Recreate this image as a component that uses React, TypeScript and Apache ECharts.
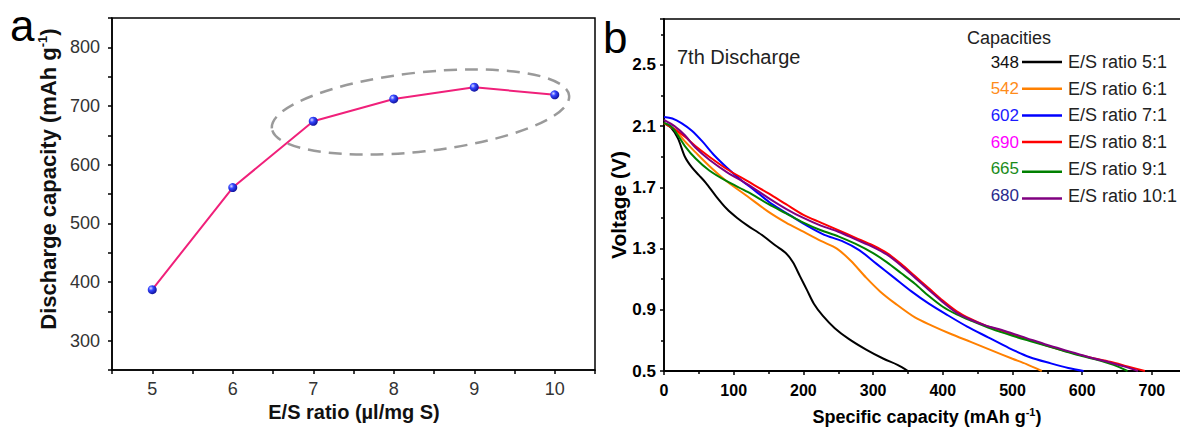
import React, { useEffect, useRef } from 'react';
import * as echarts from 'echarts';

// ---------- Panel a data ----------
const esRatio = [5, 6, 7, 8, 9, 10];
const dischargeCapacity = [387, 561, 674, 712, 732, 719];

// ---------- Panel b data: [specific capacity (mAh/g), voltage (V)] ----------
const curveRatio5 = [[0, 2.12], [10, 2.09], [20, 2.02], [30, 1.9], [40, 1.83], [50, 1.78], [60, 1.73], [75, 1.64], [90, 1.56], [105, 1.5], [120, 1.45], [140, 1.39], [160, 1.32], [175, 1.27], [185, 1.21], [195, 1.12], [205, 1.03], [215, 0.94], [228, 0.86], [245, 0.78], [265, 0.71], [290, 0.64], [315, 0.58], [335, 0.54], [350, 0.5]];
const curveRatio6 = [[0, 2.12], [15, 2.08], [30, 2.0], [45, 1.93], [65, 1.84], [90, 1.74], [120, 1.64], [150, 1.54], [175, 1.47], [200, 1.41], [225, 1.35], [248, 1.3], [268, 1.22], [290, 1.11], [310, 1.02], [332, 0.94], [360, 0.85], [385, 0.795], [410, 0.745], [440, 0.69], [470, 0.635], [500, 0.58], [520, 0.545], [542, 0.5]];
const curveRatio7 = [[0, 2.16], [12, 2.15], [25, 2.12], [40, 2.07], [55, 2.0], [72, 1.91], [90, 1.83], [110, 1.75], [130, 1.68], [155, 1.59], [180, 1.52], [205, 1.45], [230, 1.39], [255, 1.35], [280, 1.29], [305, 1.2], [330, 1.11], [355, 1.02], [380, 0.94], [405, 0.87], [435, 0.79], [465, 0.72], [495, 0.65], [525, 0.59], [555, 0.55], [580, 0.52], [602, 0.5]];
const curveRatio8 = [[0, 2.12], [15, 2.08], [30, 2.03], [45, 1.97], [65, 1.9], [90, 1.82], [120, 1.74], [150, 1.66], [175, 1.59], [200, 1.52], [225, 1.47], [250, 1.42], [275, 1.37], [300, 1.32], [320, 1.27], [340, 1.2], [360, 1.12], [380, 1.04], [400, 0.96], [420, 0.89], [440, 0.84], [460, 0.8], [490, 0.755], [520, 0.71], [550, 0.665], [580, 0.625], [610, 0.59], [640, 0.56], [665, 0.53], [690, 0.5]];
const curveRatio9 = [[0, 2.12], [10, 2.1], [20, 2.04], [30, 1.97], [45, 1.89], [65, 1.81], [90, 1.74], [120, 1.67], [150, 1.59], [175, 1.53], [200, 1.47], [225, 1.42], [250, 1.38], [275, 1.33], [300, 1.27], [320, 1.21], [340, 1.14], [360, 1.07], [380, 0.99], [400, 0.92], [420, 0.87], [440, 0.83], [470, 0.775], [500, 0.73], [530, 0.69], [560, 0.65], [590, 0.61], [620, 0.575], [645, 0.54], [665, 0.5]];
const curveRatio10 = [[0, 2.14], [15, 2.1], [30, 2.04], [45, 1.96], [65, 1.88], [90, 1.8], [120, 1.72], [150, 1.63], [175, 1.56], [200, 1.5], [225, 1.45], [250, 1.41], [275, 1.36], [300, 1.31], [320, 1.26], [340, 1.19], [360, 1.11], [380, 1.03], [400, 0.95], [420, 0.88], [440, 0.835], [460, 0.8], [490, 0.76], [520, 0.715], [550, 0.67], [580, 0.63], [610, 0.59], [640, 0.555], [660, 0.53], [680, 0.5]];

const curves = [curveRatio5, curveRatio6, curveRatio7, curveRatio8, curveRatio9, curveRatio10];
const curveNames = ['E/S ratio 5:1', 'E/S ratio 6:1', 'E/S ratio 7:1', 'E/S ratio 8:1', 'E/S ratio 9:1', 'E/S ratio 10:1'];
const curveCapacities = ['348', '542', '602', '690', '665', '680'];
const lineColors = ['#000000', '#ff8000', '#0000ff', '#ff0000', '#008000', '#800080'];
const numberColors = ['#111111', '#ff8c1a', '#1a1aff', '#ff00ff', '#1a8c1a', '#2a2a8c'];

const FONT = "'Liberation Sans', Arial, sans-serif";

export default function App() {
  const ref = useRef<HTMLDivElement>(null);

  useEffect(() => {
    if (!ref.current) return;
    const chart = echarts.init(ref.current, undefined, { renderer: 'svg' });

    const legendGraphics: any[] = [];
    const rowY0 = 62;
    const rowStep = 26.7;
    curveNames.forEach((name, i) => {
      const y = rowY0 + i * rowStep;
      legendGraphics.push({
        type: 'text', x: 1019, y,
        style: { text: curveCapacities[i], fill: numberColors[i], font: `17px ${FONT}`, align: 'right', verticalAlign: 'middle' },
      });
      legendGraphics.push({
        type: 'line', shape: { x1: 1022, y1: y + (i >= 4 ? 3 : 0), x2: 1062, y2: y + (i >= 4 ? 3 : 0) },
        style: { stroke: lineColors[i], lineWidth: 2.5 },
      });
      legendGraphics.push({
        type: 'text', x: 1068, y,
        style: { text: name, fill: '#222', font: `18px ${FONT}`, align: 'left', verticalAlign: 'middle' },
      });
    });

    const sphere = new echarts.graphic.RadialGradient(0.35, 0.35, 0.75, [
      { offset: 0, color: '#d8dcff' },
      { offset: 0.35, color: '#3344ff' },
      { offset: 1, color: '#0a0a8a' },
    ]);

    const option: any = {
      animation: false,
      backgroundColor: '#ffffff',
      textStyle: { fontFamily: FONT },
      grid: [
        { left: 112, top: 18, width: 483, height: 352, show: true, borderColor: '#000', borderWidth: 1.5, backgroundColor: 'transparent', outerBoundsMode: 'none' },
        { left: 664, top: 19, width: 522.75, height: 352, show: true, borderColor: '#000', borderWidth: 1.5, backgroundColor: 'transparent', outerBoundsMode: 'none' },
      ],
      xAxis: [
        {
          gridIndex: 0, type: 'value', min: 4.5, max: 10.5, interval: 0.5,
          axisLine: { show: true, lineStyle: { color: '#000', width: 1.5 } },
          axisTick: { show: true, inside: false, length: 4, lineStyle: { color: '#000', width: 1.5 } },
          splitLine: { show: false },
          axisLabel: {
            margin: 10, fontSize: 18, color: '#333', fontFamily: FONT,
            formatter: (v: number) => (Number.isInteger(v) ? String(v) : ''),
          },
        },
        {
          gridIndex: 1, type: 'value', min: 0, max: 750, interval: 100,
          axisLine: { show: true, lineStyle: { color: '#000', width: 1.8 } },
          axisTick: { show: true, inside: false, length: 4, lineStyle: { color: '#000', width: 1.5 } },
          minorTick: { show: true, splitNumber: 2, length: 3, lineStyle: { color: '#000', width: 1.5 } },
          splitLine: { show: false },
          axisLabel: {
            margin: 11, fontSize: 16, fontWeight: 'bold', color: '#000', fontFamily: FONT,
            formatter: (v: number) => (v % 100 === 0 ? String(v) : ''),
          },
        },
      ],
      yAxis: [
        {
          gridIndex: 0, type: 'value', min: 250, max: 850, interval: 50,
          axisLine: { show: true, lineStyle: { color: '#000', width: 1.5 } },
          axisTick: { show: true, inside: false, length: 4, lineStyle: { color: '#000', width: 1.5 } },
          splitLine: { show: false },
          axisLabel: {
            margin: 12, fontSize: 18, color: '#333', fontFamily: FONT,
            formatter: (v: number) => (v % 100 === 0 && v >= 300 && v <= 800 ? String(v) : ''),
          },
        },
        {
          gridIndex: 1, type: 'value', min: 0.5, max: 2.8, interval: 0.4,
          axisLine: { show: true, lineStyle: { color: '#000', width: 1.8 } },
          axisTick: { show: true, inside: false, length: 4, lineStyle: { color: '#000', width: 1.5 } },
          minorTick: { show: true, splitNumber: 2, length: 3, lineStyle: { color: '#000', width: 1.5 } },
          splitLine: { show: false },
          axisLabel: {
            margin: 8, fontSize: 17, fontWeight: 'bold', color: '#000', fontFamily: FONT,
            formatter: (v: number) => (Math.abs(v - 2.8) < 1e-6 ? '' : v.toFixed(1)),
          },
        },
      ],
      series: [
        {
          type: 'line', xAxisIndex: 0, yAxisIndex: 0,
          data: esRatio.map((x, i) => [x, dischargeCapacity[i]]),
          lineStyle: { color: '#f0207a', width: 2 },
          symbol: 'circle', symbolSize: 9, showSymbol: true,
          itemStyle: { color: sphere, borderWidth: 0 },
          z: 3,
        },
        ...curves.map((c, i) => ({
          type: 'line', xAxisIndex: 1, yAxisIndex: 1, name: curveNames[i],
          data: c, showSymbol: false, symbol: 'none', smooth: 0.3,
          lineStyle: { color: lineColors[i], width: 2 },
          z: 3 + i,
        })),
      ],
      graphic: [
        {
          type: 'ellipse', x: 420.5, y: 112, rotation: 0.11,
          shape: { cx: 0, cy: 0, rx: 149.5, ry: 39.5 },
          style: { fill: 'none', stroke: '#9a9a9a', lineWidth: 2.5, lineDash: [13, 8] },
          z: 1,
        },
        {
          type: 'text', x: 10, y: 47,
          style: { text: 'a', fill: '#000', font: `44px ${FONT}`, align: 'left', verticalAlign: 'bottom' },
        },
        {
          type: 'text', x: 603, y: 59,
          style: { text: 'b', fill: '#000', font: `44px ${FONT}`, align: 'left', verticalAlign: 'bottom' },
        },
        {
          type: 'text', x: 48, y: 179, rotation: Math.PI / 2,
          style: {
            text: '{b|Discharge capacity (mAh g}{s|-1}{b|)}',
            align: 'center', verticalAlign: 'middle', fill: '#111',
            rich: {
              b: { fontSize: 22, fontWeight: 'bold', fontFamily: FONT, fill: '#111' },
              s: { fontSize: 13, fontWeight: 'bold', fontFamily: FONT, fill: '#111', padding: [0, 0, 12, 0] },
            },
          },
        },
        {
          type: 'text', x: 354, y: 412,
          style: { text: 'E/S ratio (\u00b5l/mg S)', fill: '#111', font: `bold 20px ${FONT}`, align: 'center', verticalAlign: 'middle' },
        },
        {
          type: 'text', x: 618, y: 205, rotation: Math.PI / 2,
          style: { text: 'Voltage (V)', fill: '#000', font: `bold 21px ${FONT}`, align: 'center', verticalAlign: 'middle' },
        },
        {
          type: 'text', x: 927, y: 417,
          style: {
            text: '{b|Specific capacity (mAh g}{s|-1}{b|)}',
            align: 'center', verticalAlign: 'middle', fill: '#000',
            rich: {
              b: { fontSize: 18, fontWeight: 'bold', fontFamily: FONT, fill: '#000' },
              s: { fontSize: 11, fontWeight: 'bold', fontFamily: FONT, fill: '#000', padding: [0, 0, 10, 0] },
            },
          },
        },
        {
          type: 'text', x: 677, y: 57,
          style: { text: '7th Discharge', fill: '#222', font: `20px ${FONT}`, align: 'left', verticalAlign: 'middle' },
        },
        {
          type: 'text', x: 967, y: 38,
          style: { text: 'Capacities', fill: '#222', font: `18px ${FONT}`, align: 'left', verticalAlign: 'middle' },
        },
        ...legendGraphics,
      ],
    };

    chart.setOption(option);
    return () => chart.dispose();
  }, []);

  return (
    <div
      ref={ref}
      style={{ position: 'fixed', left: 0, top: 0, width: 1180, height: 428, background: '#fff' }}
    />
  );
}
